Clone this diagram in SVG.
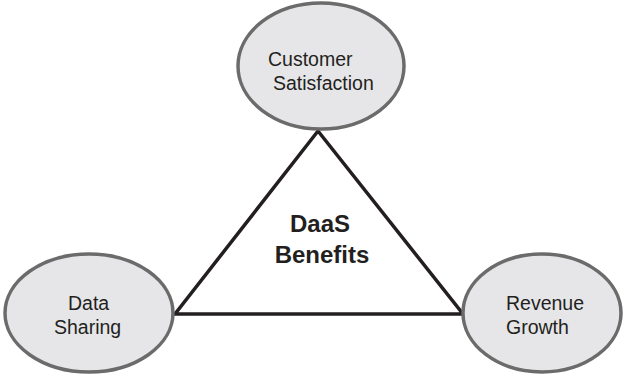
<svg xmlns="http://www.w3.org/2000/svg" width="623" height="376" viewBox="0 0 623 376">
<style>
.node ellipse{fill:#e6e6e8;stroke:#6b6b6b;stroke-width:3.5}
.lbl{font-family:"Liberation Sans",Arial,sans-serif;font-size:19.5px;fill:#231f20}
.title{font-family:"Liberation Sans",Arial,sans-serif;font-size:24px;font-weight:bold;fill:#231f20;text-anchor:middle}
.edge{fill:none;stroke:#231f20;stroke-width:3.5;stroke-linejoin:miter}
</style>
<rect width="623" height="376" fill="#ffffff"/>
<g id="connectors">
<polygon class="edge" points="318,131 175,314 463,314"/>
</g>
<g id="center">
<text class="title" x="320" y="232">DaaS</text>
<text class="title" x="322" y="263">Benefits</text>
</g>
<g id="customer-satisfaction" class="node">
<ellipse cx="321" cy="66" rx="83" ry="63"/>
<text class="lbl" x="268" y="66">Customer</text>
<text class="lbl" x="273" y="90">Satisfaction</text>
</g>
<g id="data-sharing" class="node">
<ellipse cx="89" cy="313" rx="84" ry="59"/>
<text class="lbl" x="68" y="310">Data</text>
<text class="lbl" x="54" y="334">Sharing</text>
</g>
<g id="revenue-growth" class="node">
<ellipse cx="542" cy="313" rx="79" ry="59"/>
<text class="lbl" x="506" y="310">Revenue</text>
<text class="lbl" x="506" y="334">Growth</text>
</g>
</svg>
